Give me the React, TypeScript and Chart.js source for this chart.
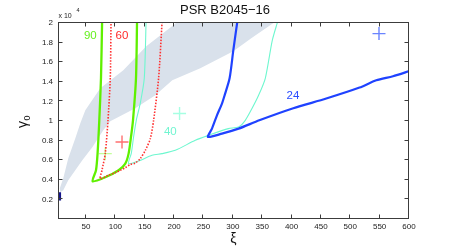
import React, { useEffect, useRef } from 'react';
import { Chart, registerables } from 'chart.js';

Chart.register(...registerables);

// ---- tick labels ----
const xTicks = [50, 100, 150, 200, 250, 300, 350, 400, 450, 500, 550, 600];
const yTicks = [0.2, 0.4, 0.6, 0.8, 1, 1.2, 1.4, 1.6, 1.8, 2];
const yTickLabels = ['0.2', '0.4', '0.6', '0.8', '1', '1.2', '1.4', '1.6', '1.8', '2'];

// ---- shaded band (upper-left edge, then lower-right edge) ----
const bandUpperX = [207.1, 198.6, 152.6, 113.5, 74.3, 48.8, 40.3, 31.8, 19.8, 11.3, 5.4];
const bandUpperY = [2.02, 1.977, 1.763, 1.518, 1.334, 1.109, 0.977, 0.823, 0.619, 0.415, 0.313];
const bandLowerX = [6.2, 11.3, 19.8, 43.7, 60.7, 79.4, 91.3, 133.9, 168.0, 196.9, 244.6, 300.8, 331.4, 374.0];
const bandLowerY = [0.272, 0.293, 0.395, 0.599, 0.732, 0.905, 0.997, 1.13, 1.262, 1.416, 1.538, 1.711, 1.844, 2.02];

// ---- contour "90" (green) ----
const greenX = [77.4, 75.5, 72.6, 69.7, 67.0, 61.2, 82.8, 105.5, 116.9, 122.5, 126.6, 130.0, 135.1, 136.9];
const greenY = [2.02, 1.436, 1.007, 0.67, 0.497, 0.385, 0.426, 0.497, 0.565, 0.667, 0.837, 1.007, 1.436, 2.02];

// ---- contour "60" (red dotted) ----
const redX = [92.6, 91.3, 87.4, 82.8, 77.2, 74.3, 88.5, 99.9, 108.4, 116.9, 125.4, 133.9, 142.4, 151.0, 159.5, 165.1, 173.6, 179.6];
const redY = [2.02, 1.436, 1.007, 0.67, 0.497, 0.412, 0.446, 0.473, 0.497, 0.524, 0.555, 0.571, 0.616, 0.701, 0.82, 1.007, 1.436, 2.02];

// ---- contour "40" (cyan) ----
const cyanX = [152.3, 149.2, 142.4, 135.6, 131.0, 127.1, 122.5, 139.5, 162.4, 179.4, 202.0, 236.1, 258.7, 292.3, 309.8, 321.2, 332.6, 343.9, 355.3, 367.2, 376.6];
const cyanY = [2.02, 1.436, 1.181, 1.007, 0.837, 0.67, 0.565, 0.592, 0.65, 0.667, 0.701, 0.803, 0.854, 0.922, 0.939, 1.007, 1.127, 1.262, 1.436, 1.823, 2.02];

// ---- contour "24" (blue) ----
const blueX = [307.8, 300.8, 294.5, 286.0, 281.5, 273.0, 264.5, 257.7, 281.5, 309.8, 345.1, 403.0, 459.1, 515.8, 544.3, 572.7, 602];
const blueY = [2.02, 1.721, 1.436, 1.262, 1.178, 1.058, 0.922, 0.837, 0.871, 0.922, 1.007, 1.13, 1.229, 1.341, 1.415, 1.456, 1.512];

// ---- small dark mark at left edge ----
const navyX = [5.4, 5.4];
const navyY = [0.272, 0.19];

// ---- cross markers ----
const crossX = [111.3, 209.3, 548.9, 82.8];
const crossY = [0.786, 1.076, 1.892, 0.667];

// ---- contour labels ----
const labelTexts = ['90', '60', '40', '24'];
const labelX = [57.3, 111.3, 193.5, 402.4];
const labelY = [1.874, 1.874, 0.885, 1.255];

const pts = (xs: number[], ys: number[]) => xs.map((x, i) => ({ x, y: ys[i] }));

const labelColors = ['#66f01e', '#ff2a2a', '#70f5d0', '#2a4cff'];
const crossColors = ['#ff7070', '#a6ffe2', '#6a84ff', '#c2ff99'];
const FONT = '"Liberation Sans", Arial, sans-serif';

const decor = {
  id: 'decor',
  afterDraw(chart: any) {
    const { ctx, chartArea: a, scales } = chart;
    const xs = scales.x;
    const ys = scales.y;
    ctx.save();
    const L = a.left - 0.5, R = a.right - 0.5, T = a.top - 0.5, B = a.bottom - 0.5;
    ctx.strokeStyle = '#3c3c3c';
    ctx.lineWidth = 1;
    ctx.strokeRect(L, T, R - L, B - T);
    ctx.beginPath();
    xs.ticks.forEach((t: any) => {
      const px = Math.round(xs.getPixelForValue(t.value)) - 0.5;
      ctx.moveTo(px, B); ctx.lineTo(px, B - 4);
      ctx.moveTo(px, T); ctx.lineTo(px, T + 4);
    });
    ys.ticks.forEach((t: any) => {
      const py = Math.round(ys.getPixelForValue(t.value)) - 0.5;
      ctx.moveTo(L, py); ctx.lineTo(L + 4, py);
      ctx.moveTo(R, py); ctx.lineTo(R - 4, py);
    });
    ctx.stroke();

    // contour labels
    ctx.textAlign = 'center';
    ctx.textBaseline = 'middle';
    labelTexts.forEach((txt, i) => {
      ctx.font = `11.5px ${FONT}`;
      ctx.fillStyle = labelColors[i];
      ctx.fillText(txt, xs.getPixelForValue(labelX[i]), ys.getPixelForValue(labelY[i]));
    });

    // title
    ctx.fillStyle = '#111';
    ctx.textBaseline = 'alphabetic';
    ctx.font = `13px ${FONT}`;
    ctx.fillText('PSR B2045\u221216', 225, 14);

    // exponent
    ctx.textAlign = 'left';
    ctx.fillStyle = '#222';
    ctx.font = `7px ${FONT}`;
    ctx.fillText('x 10', 58.5, 17.5);
    ctx.font = `5.5px ${FONT}`;
    ctx.fillText('4', 76.5, 12);

    // x label
    ctx.textAlign = 'center';
    ctx.font = `14px ${FONT}`;
    ctx.fillStyle = '#111';
    ctx.fillText('\u03BE', 233.5, 243);

    // y label (rotated)
    ctx.translate(27, 128);
    ctx.rotate(-Math.PI / 2);
    ctx.textAlign = 'left';
    ctx.font = `14px ${FONT}`;
    ctx.fillText('\u03B3', 0, 0);
    const w = ctx.measureText('\u03B3').width;
    ctx.font = `9px ${FONT}`;
    ctx.fillText('0', w + 0.5, 3);
    ctx.restore();
  },
};

export default function App() {
  const ref = useRef<HTMLCanvasElement | null>(null);

  useEffect(() => {
    document.body.style.margin = '0';
    const canvas = ref.current;
    if (!canvas) return;

    const lineDs = (data: any[], color: string, width: number, order: number, dash: number[] = [], tension = 0.25) => ({
      data,
      showLine: true,
      borderColor: color,
      borderWidth: width,
      borderDash: dash,
      pointRadius: 0,
      fill: false,
      tension,
      order,
    });

    const crossDs = crossX.map((x, i) => ({
      data: [{ x, y: crossY[i] }],
      showLine: false,
      pointStyle: 'cross',
      pointRadius: 6.5,
      pointBorderWidth: 1.4,
      borderColor: crossColors[i],
      backgroundColor: crossColors[i],
      order: 6,
    }));

    const bandData = [...pts(bandUpperX, bandUpperY), ...pts(bandLowerX, bandLowerY)];

    const chart = new Chart(canvas, {
      type: 'scatter',
      data: {
        datasets: [
          {
            data: bandData,
            showLine: true,
            borderWidth: 0,
            borderColor: 'rgba(0,0,0,0)',
            backgroundColor: '#d9e1eb',
            pointRadius: 0,
            fill: 'shape',
            order: 10,
          } as any,
          ...crossDs,
          lineDs(pts(blueX, blueY), '#1f42ff', 2.2, 0),
          lineDs(pts(redX, redY), '#ff3030', 1.6, 1, [1.5, 1.5]),
          lineDs(pts(greenX, greenY), '#5ff000', 2.3, 2),
          lineDs(pts(cyanX, cyanY), '#6ef7cf', 1.1, 3),
          lineDs(pts(navyX, navyY), '#15158a', 2.5, 1, [], 0),
        ],
      },
      options: {
        animation: false,
        responsive: true,
        maintainAspectRatio: false,
        events: [],
        layout: { padding: { left: 0, right: 43, top: 23, bottom: 0 } },
        plugins: { legend: { display: false }, tooltip: { enabled: false }, title: { display: false } },
        scales: {
          x: {
            type: 'linear',
            min: 4,
            max: 600,
            grid: { display: false, drawTicks: false },
            border: { display: false },
            afterBuildTicks: (s: any) => { s.ticks = xTicks.map((v) => ({ value: v })); },
            afterFit: (s: any) => { s.height = 30; },
            ticks: {
              autoSkip: false,
              maxRotation: 0,
              padding: 3,
              color: '#222',
              font: { family: FONT, size: 8 },
              callback: (v: any) => String(v),
            },
          },
          y: {
            type: 'linear',
            min: 0,
            max: 2,
            grid: { display: false, drawTicks: false },
            border: { display: false },
            afterBuildTicks: (s: any) => { s.ticks = yTicks.map((v) => ({ value: v })); },
            afterFit: (s: any) => { s.width = 59; },
            ticks: {
              autoSkip: false,
              padding: 6,
              color: '#222',
              font: { family: FONT, size: 8 },
              callback: (_v: any, i: number) => yTickLabels[i],
            },
          },
        },
      } as any,
      plugins: [decor],
    });

    return () => chart.destroy();
  }, []);

  return (
    <div style={{ position: 'absolute', left: 0, top: 0, width: 452, height: 249, background: '#fff' }}>
      <canvas ref={ref} />
    </div>
  );
}
